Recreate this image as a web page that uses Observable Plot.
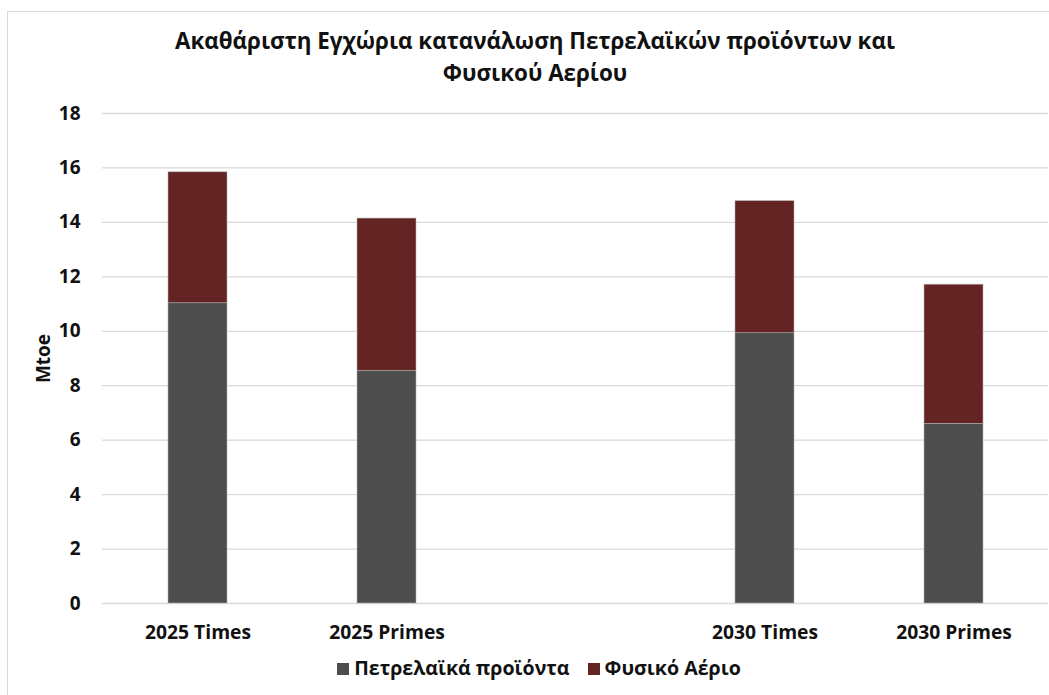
<!DOCTYPE html>
<html>
<head>
<meta charset="utf-8">
<script src="https://cdn.jsdelivr.net/npm/d3@7"></script>
<script src="https://cdn.jsdelivr.net/npm/@observablehq/plot@0.6"></script>
<style>
  html, body { margin: 0; padding: 0; background: #fff; }
  body { width: 1049px; height: 695px; position: relative; overflow: hidden; font-family: "Open Sans", Lato, sans-serif; }
  #frame { position: absolute; left: 7px; top: 11px; width: 1060px; height: 700px; border: 1px solid #d9d9d9; box-sizing: border-box; }
  #title { position: absolute; left: 0; top: 25px; width: 1070px; text-align: center; font-weight: 700; font-size: 22.4px; line-height: 32px; color: #111; }
  #chart { position: absolute; left: 0; top: 95px; }
  #legend { position: absolute; left: 0; top: 654px; width: 1078px; text-align: center; font-weight: 700; font-size: 19.6px; color: #111; white-space: nowrap; }
  #legend span.sw { display: inline-block; width: 12px; height: 12px; margin-right: 5px; vertical-align: 0px; }
  #legend span.item { margin: 0 9px; }
</style>
</head>
<body>
<div id="frame"></div>
<div id="title">Ακαθάριστη Εγχώρια κατανάλωση Πετρελαϊκών προϊόντων και<br>Φυσικού Αερίου</div>
<div id="chart"></div>
<div id="legend"></div>
<script>
const categories = ["2025 Times", "2025 Primes", "2030 Times", "2030 Primes"];
const xDomain = ["2025 Times", "2025 Primes", "gap", "2030 Times", "2030 Primes"];
const seriesNames = ["Πετρελαϊκά προϊόντα", "Φυσικό Αέριο"];
const oilValues = [11.03, 8.54, 9.93, 6.60];
const gasValues = [4.81, 5.60, 4.85, 5.11];
const seriesColors = ["#4d4d4d", "#632423"];
const yTicks = [0, 2, 4, 6, 8, 10, 12, 14, 16, 18];

const data = [];
categories.forEach((c, i) => {
  data.push({cat: c, series: seriesNames[0], value: oilValues[i]});
  data.push({cat: c, series: seriesNames[1], value: gasValues[i]});
});

const chart = Plot.plot({
  width: 1049,
  height: 560,
  marginTop: 18,
  marginBottom: 52,
  marginLeft: 102,
  marginRight: 1,
  style: {fontFamily: "'Open Sans', Lato, sans-serif", fontSize: "19px", fontWeight: 700, color: "#111", background: "transparent"},
  x: {domain: xDomain, paddingInner: 0.69, paddingOuter: 0.345, label: null},
  y: {domain: [0, 18], label: null},
  color: {domain: seriesNames, range: seriesColors},
  marks: [
    Plot.gridY(yTicks, {stroke: "#d9d9d9", strokeOpacity: 1, strokeWidth: 1.3}),
    Plot.barY(data, Plot.stackY({x: "cat", y: "value", fill: "series", order: seriesNames, stroke: "#b0b0b0", strokeWidth: 0.7, strokeOpacity: 0.8})),
    Plot.axisY(yTicks, {tickSize: 0, tickPadding: 22, fontSize: 19, fontWeight: 700, label: "Mtoe", labelAnchor: "center", labelArrow: "none", labelOffset: 66}),
    Plot.axisX({tickSize: 0, tickPadding: 22, fontSize: 19.3, fontWeight: 700, tickFormat: d => d === "gap" ? "" : d, label: null})
  ]
});
document.getElementById("chart").appendChild(chart);

const legend = document.getElementById("legend");
seriesNames.forEach((name, i) => {
  const item = document.createElement("span");
  item.className = "item";
  const sw = document.createElement("span");
  sw.className = "sw";
  sw.style.background = seriesColors[i];
  item.appendChild(sw);
  item.appendChild(document.createTextNode(name));
  legend.appendChild(item);
});
</script>
</body>
</html>
